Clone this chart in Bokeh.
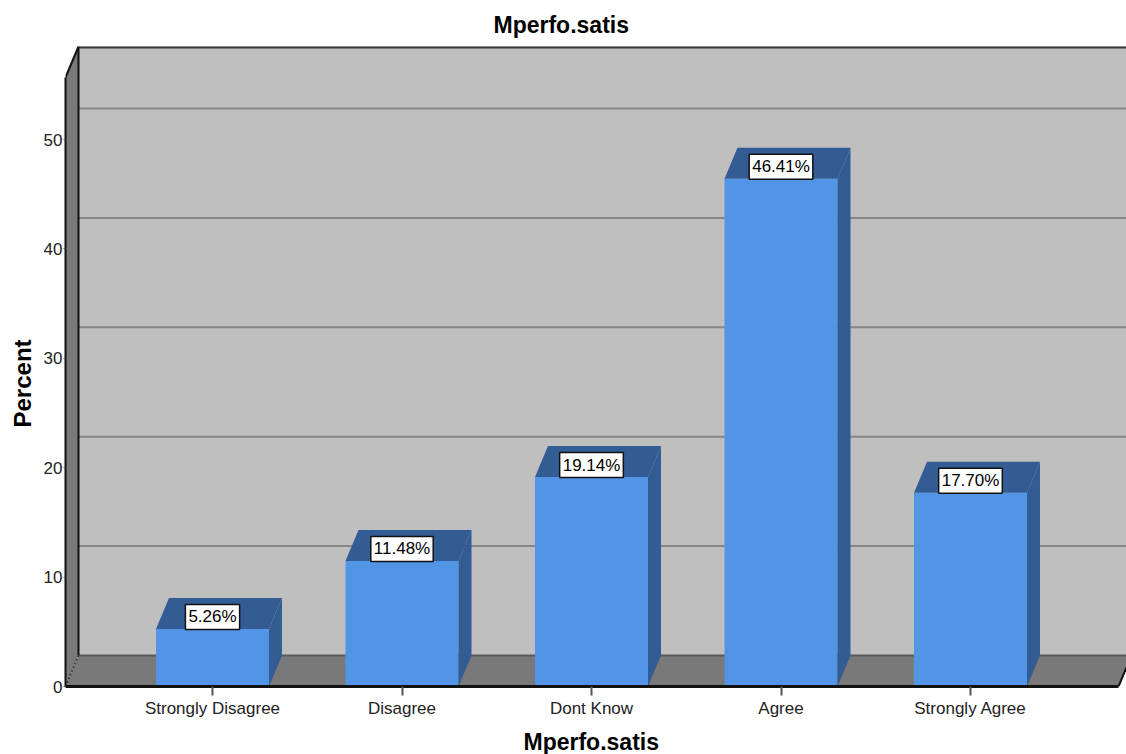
from bokeh.embed import file_html
from bokeh.models import FixedTicker, Label, Range1d, Title
from bokeh.plotting import figure
from bokeh.resources import INLINE

# Survey responses
categories = ["Strongly Disagree", "Disagree", "Dont Know", "Agree", "Strongly Agree"]
percents = [5.26, 11.48, 19.14, 46.41, 17.70]
value_labels = ["5.26%", "11.48%", "19.14%", "46.41%", "17.70%"]
y_ticks = [0, 10, 20, 30, 40, 50]

# Colours
WALL = "#bfbfbf"
FLOOR = "#797979"
GRID = "#868686"
BAR_FRONT = "#5294e6"
BAR_SHADE = "#335c94"
FONT = "Liberation Sans"

# Scale: one category step and one percent in pixels
PX_X = 189.5
PX_Y = 10.94
# Oblique depth of the box and the bars, in data units
DX = 13 / PX_X
DY = 31 / PX_Y
HALF_BAR = 56.5 / PX_X

X_START = -147 / PX_X
X_END = 914 / PX_X
X_FRONT_END = 906 / PX_X
Y_END = 640 / PX_Y
Y_FRONT_TOP = Y_END - DY

p = figure(
    width=1126, height=754, output_backend="svg", toolbar_location=None,
    x_range=Range1d(X_START, X_END), y_range=Range1d(0, Y_END),
    min_border_left=65, min_border_right=0, min_border_top=46, min_border_bottom=68,
    frame_width=1061, frame_height=640,
    background_fill_color="white", border_fill_color="white", outline_line_color=None,
)
p.grid.visible = False

# Back wall, floor and side wall of the box
back = X_START + DX
floor_edge_y = DY * (X_END - X_FRONT_END) / DX
p.quad(left=back, right=X_END, bottom=DY, top=Y_END, fill_color=WALL, line_color=None)
p.patch([X_START, X_FRONT_END, X_END, X_END, back], [0, 0, floor_edge_y, DY, DY],
        fill_color=FLOOR, line_color=None)
p.patch([X_START, back, back, X_START], [0, DY, Y_END, Y_FRONT_TOP], fill_color=FLOOR, line_color=None)

# Gridlines sit on the back wall, shifted by the depth
grid_values = [t for t in y_ticks if t > 0]
p.segment(x0=[back] * len(grid_values), x1=[X_END] * len(grid_values),
          y0=[t + DY for t in grid_values], y1=[t + DY for t in grid_values],
          line_color=GRID, line_width=2)

# Box edges
p.line([back, X_END], [DY, DY], line_color="#5a5a5a", line_width=2)
p.line([back, back], [DY, Y_END], line_color="#111111", line_width=2)
p.line([back, X_END], [Y_END - 0.05, Y_END - 0.05], line_color="#333333", line_width=3)
p.line([X_START, back], [Y_FRONT_TOP, Y_END], line_color="#111111", line_width=2)
p.line([X_START, back], [0, DY], line_color="#444444", line_width=2, line_dash="2 2")
p.line([X_FRONT_END, X_END], [0, floor_edge_y], line_color="#111111", line_width=2)

# Bars: front face plus shaded top and side faces
xs = list(range(len(categories)))
p.quad(left=[x - HALF_BAR for x in xs], right=[x + HALF_BAR for x in xs],
       bottom=0, top=percents, fill_color=BAR_FRONT, line_color=None)
p.patches(
    xs=[[x - HALF_BAR, x + HALF_BAR, x + HALF_BAR + DX, x - HALF_BAR + DX] for x in xs],
    ys=[[v, v, v + DY, v + DY] for v in percents],
    fill_color=BAR_SHADE, line_color=None,
)
p.patches(
    xs=[[x + HALF_BAR, x + HALF_BAR + DX, x + HALF_BAR + DX, x + HALF_BAR] for x in xs],
    ys=[[0, DY, v + DY, v] for v in percents],
    fill_color=BAR_SHADE, line_color=None,
)

# Value tags resting on the top edge of each bar
for x, v, text in zip(xs, percents, value_labels):
    p.add_layout(Label(
        x=x, y=v, text=text, y_offset=12,
        text_align="center", text_baseline="middle",
        text_font=FONT, text_font_size="17px", text_color="#000000",
        background_fill_color="white", border_line_color="#111111", border_line_width=1.5,
        padding=3,
    ))

# Axes
p.xaxis.ticker = FixedTicker(ticks=xs)
p.xaxis.major_label_overrides = dict(zip(xs, categories))
p.xaxis.bounds = (X_START, X_FRONT_END)
p.xaxis.axis_line_color = "#111111"
p.xaxis.axis_line_width = 3
p.xaxis.major_tick_in = 0
p.xaxis.major_tick_out = 9
p.xaxis.major_tick_line_color = "#555555"
p.xaxis.major_tick_line_width = 2
p.xaxis.minor_tick_line_color = None
p.xaxis.major_label_standoff = 3
p.xaxis.major_label_text_font = FONT
p.xaxis.major_label_text_font_size = "17px"
p.xaxis.major_label_text_color = "#222222"

p.yaxis.ticker = FixedTicker(ticks=y_ticks)
p.yaxis.bounds = (0, Y_FRONT_TOP)
p.yaxis.axis_line_color = "#111111"
p.yaxis.axis_line_width = 2
p.yaxis.major_tick_in = 0
p.yaxis.major_tick_out = 2
p.yaxis.major_tick_line_color = "#555555"
p.yaxis.minor_tick_line_color = None
p.yaxis.major_label_standoff = 1
p.yaxis.major_label_text_font = FONT
p.yaxis.major_label_text_font_size = "17px"
p.yaxis.major_label_text_color = "#222222"

# Chart title and axis titles
title_style = dict(text_font=FONT, text_font_style="bold", text_color="#000000", align="left")
p.add_layout(Title(text="Mperfo.satis", offset=428, standoff=18, text_font_size="23px", **title_style), "above")
p.add_layout(Title(text="Mperfo.satis", offset=458, standoff=12, text_font_size="23px", **title_style), "below")
p.add_layout(Title(text="Percent", offset=259, standoff=10, text_font_size="24px", **title_style), "left")

open("out.html", "w").write(file_html(p, INLINE))
